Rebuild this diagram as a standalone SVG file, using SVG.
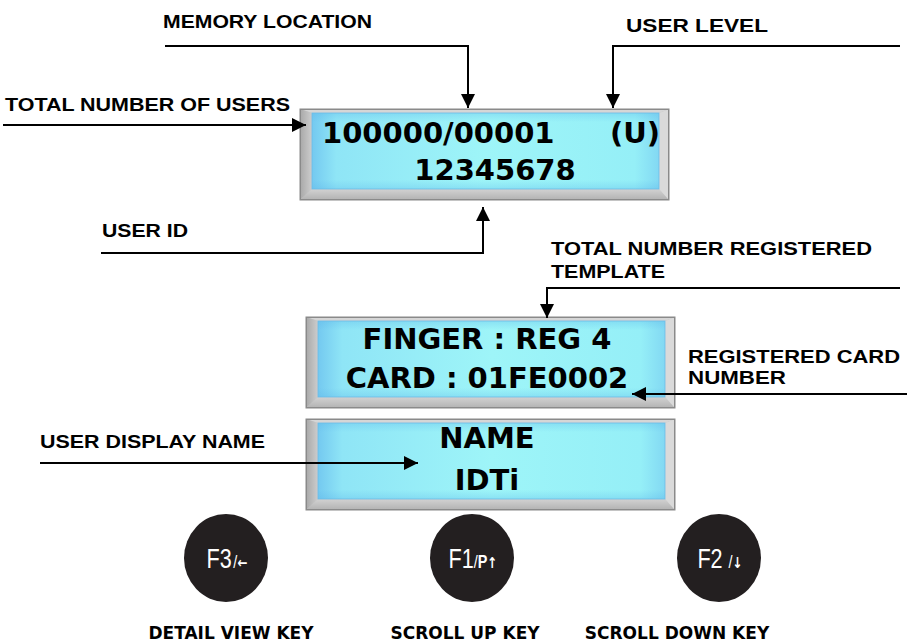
<svg xmlns="http://www.w3.org/2000/svg" width="907" height="642" viewBox="0 0 907 642">
<style>
.lbl{font-family:"Liberation Sans",Arial,sans-serif;font-weight:bold;font-size:19px;fill:#000}
.key{font-family:"DejaVu Sans",Verdana,sans-serif;font-weight:bold;font-size:17px;fill:#000}
.lcdt{font-family:"DejaVu Sans",Verdana,sans-serif;font-weight:bold;font-size:29px;fill:#000}
.btn{font-family:"Liberation Sans",Arial,sans-serif;fill:#fff}
.big{font-size:27px}
.sl{font-size:18px}
.arr{font-family:"DejaVu Sans",sans-serif;font-weight:bold;font-size:15px}
.wire{fill:none;stroke:#000;stroke-width:2}
</style>
<defs>
<marker id="ah" markerUnits="userSpaceOnUse" markerWidth="14" markerHeight="14" refX="14" refY="7" orient="auto" viewBox="0 0 14 14">
<path d="M0,0 L14,7 L0,14 z" fill="#000"/>
</marker>
<linearGradient id="lcdg" x1="0" y1="0" x2="1" y2="0">
<stop offset="0" stop-color="#74c9f0"/>
<stop offset="0.07" stop-color="#8fe5f6"/>
<stop offset="0.5" stop-color="#9ef5f8"/>
<stop offset="0.93" stop-color="#95eff7"/>
<stop offset="1" stop-color="#82d8f3"/>
</linearGradient>
<linearGradient id="lcdv" x1="0" y1="0" x2="0" y2="1">
<stop offset="0" stop-color="#5ab4e8" stop-opacity="0.3"/>
<stop offset="0.12" stop-color="#5ab4e8" stop-opacity="0"/>
<stop offset="0.88" stop-color="#5ab4e8" stop-opacity="0"/>
<stop offset="1" stop-color="#5ab4e8" stop-opacity="0.3"/>
</linearGradient>
<linearGradient id="lb" x1="0" y1="0" x2="1" y2="0">
<stop offset="0" stop-color="#a8a8a8"/>
<stop offset="1" stop-color="#cdcdcd"/>
</linearGradient>
<linearGradient id="bb" x1="0" y1="0" x2="0" y2="1">
<stop offset="0" stop-color="#d2d2d2"/>
<stop offset="1" stop-color="#b2b2b2"/>
</linearGradient>
<g id="lcd">
<rect x="0" y="0" width="369" height="91" fill="#c4c4c4" stroke="#8a8a8a" stroke-width="1"/>
<polygon points="0,0 369,0 359,4 12,4" fill="#d6d6d6"/>
<polygon points="0,0 12,4 12,80 0,91" fill="url(#lb)"/>
<polygon points="0,91 12,80 359,80 369,91" fill="url(#bb)"/>
<polygon points="369,0 359,4 359,80 369,91" fill="#dadada"/>
<rect x="12" y="4" width="347" height="76" fill="url(#lcdg)"/>
<rect x="12" y="4" width="347" height="76" fill="url(#lcdv)" stroke="#6cbbe6" stroke-width="0.8"/>
<rect x="0.5" y="0.5" width="368" height="90" fill="none" stroke="#8a8a8a" stroke-width="1"/>
</g>
</defs>
<rect width="907" height="642" fill="#fff"/>

<g id="lcd-main">
<use href="#lcd" x="300" y="109"/>
<text class="lcdt" y="143"><tspan x="322">100000/00001</tspan><tspan x="610">(U)</tspan></text>
<text class="lcdt" x="495" y="180" text-anchor="middle">12345678</text>
</g>
<g id="lcd-finger">
<use href="#lcd" x="306" y="317"/>
<text class="lcdt" x="487" y="349" text-anchor="middle">FINGER : REG 4</text>
<text class="lcdt" x="487" y="388" text-anchor="middle">CARD : 01FE0002</text>
</g>
<g id="lcd-name">
<use href="#lcd" x="306" y="419"/>
<text class="lcdt" x="487" y="448" text-anchor="middle">NAME</text>
<text class="lcdt" x="487" y="490" text-anchor="middle">IDTi</text>
</g>

<g id="lbl-memory"><text class="lbl" x="163" y="28" textLength="209" lengthAdjust="spacingAndGlyphs">MEMORY LOCATION</text></g>
<g id="lbl-level"><text class="lbl" x="626" y="32" textLength="142" lengthAdjust="spacingAndGlyphs">USER LEVEL</text></g>
<g id="lbl-total"><text class="lbl" x="5" y="111" textLength="285" lengthAdjust="spacingAndGlyphs">TOTAL NUMBER OF USERS</text></g>
<g id="lbl-userid"><text class="lbl" x="102" y="237" textLength="86" lengthAdjust="spacingAndGlyphs">USER ID</text></g>
<g id="lbl-template">
<text class="lbl" x="551" y="255" textLength="321" lengthAdjust="spacingAndGlyphs">TOTAL NUMBER  REGISTERED</text>
<text class="lbl" x="551" y="278" textLength="114" lengthAdjust="spacingAndGlyphs">TEMPLATE</text>
</g>
<g id="lbl-card">
<text class="lbl" x="688" y="363" font-size="18" textLength="212" lengthAdjust="spacingAndGlyphs">REGISTERED CARD</text>
<text class="lbl" x="688" y="384" font-size="17" textLength="98" lengthAdjust="spacingAndGlyphs">NUMBER</text>
</g>
<g id="lbl-name"><text class="lbl" x="40" y="448" textLength="225" lengthAdjust="spacingAndGlyphs">USER DISPLAY NAME</text></g>

<g id="connectors">
<polyline class="wire" points="165,46 468,46 468,108" marker-end="url(#ah)"/>
<polyline class="wire" points="900,46 613,46 613,108" marker-end="url(#ah)"/>
<polyline class="wire" points="3,125 306,125" marker-end="url(#ah)"/>
<polyline class="wire" points="101,253 483,253 483,207" marker-end="url(#ah)"/>
<polyline class="wire" points="900,288 547,288 547,318" marker-end="url(#ah)"/>
<polyline class="wire" points="907,394 632,394" marker-end="url(#ah)"/>
<polyline class="wire" points="40,463 418,463" marker-end="url(#ah)"/>
</g>

<g id="key-f3">
<ellipse cx="226" cy="558" rx="42" ry="44" fill="#231f20"/>
<text class="btn" transform="translate(227,568) scale(0.8,1)" text-anchor="middle"><tspan class="big">F3</tspan><tspan class="sl" dx="2">/</tspan><tspan class="arr">←</tspan></text>
<text class="key" x="231" y="639" text-anchor="middle">DETAIL VIEW KEY</text>
</g>
<g id="key-f1">
<ellipse cx="472" cy="558" rx="42" ry="44" fill="#231f20"/>
<text class="btn" transform="translate(473,568) scale(0.8,1)" text-anchor="middle"><tspan class="big">F1</tspan><tspan class="sl">/</tspan><tspan class="sl" font-weight="bold" font-size="14">P</tspan><tspan class="arr">↑</tspan></text>
<text class="key" x="465" y="639" text-anchor="middle">SCROLL UP KEY</text>
</g>
<g id="key-f2">
<ellipse cx="719" cy="558" rx="42" ry="44" fill="#231f20"/>
<text class="btn" transform="translate(720,568) scale(0.8,1)" text-anchor="middle"><tspan class="big">F2 </tspan><tspan class="sl">/</tspan><tspan class="arr">↓</tspan></text>
<text class="key" x="677" y="639" text-anchor="middle">SCROLL DOWN KEY</text>
</g>
</svg>
